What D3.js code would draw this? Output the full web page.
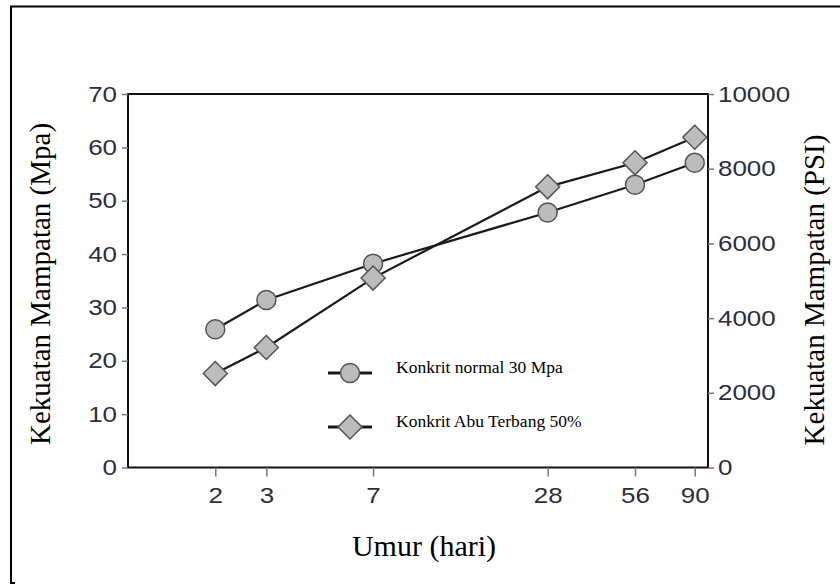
<!DOCTYPE html>
<html>
<head>
<meta charset="utf-8">
<script src="https://cdnjs.cloudflare.com/ajax/libs/d3/7.8.5/d3.min.js"></script>
<style>
  html, body { margin: 0; padding: 0; background: #fff; }
  svg { display: block; }
</style>
</head>
<body>
<div id="chart"></div>
<script>
// Age of specimens (days) and compressive strength (MPa)
const days = [2, 3, 7, 28, 56, 90];
const normalConcrete = [25.9, 31.4, 38.2, 47.8, 53.0, 57.1];
const flyAshConcrete = [17.6, 22.5, 35.5, 52.6, 57.1, 61.9];
const mpaTicks = [0, 10, 20, 30, 40, 50, 60, 70];
const psiTicks = [0, 2000, 4000, 6000, 8000, 10000];
const seriesNames = ["Konkrit normal 30 Mpa", "Konkrit Abu Terbang 50%"];

const W = 840, H = 585;
const svg = d3.select("#chart").append("svg")
  .attr("width", W).attr("height", H);

// outer frame (top and left edges)
svg.append("path")
  .attr("d", "M11,584 V6.5 H840")
  .attr("fill", "none").attr("stroke", "#000").attr("stroke-width", 2);
svg.append("path")
  .attr("d", "M11,583 H15")
  .attr("fill", "none").attr("stroke", "#000").attr("stroke-width", 2);

const plotL = 128, plotR = 708, plotT = 94, plotB = 467.5;

const x = d3.scaleLog().domain([1, 100]).range([plotL, plotR]);
const y = d3.scaleLinear().domain([0, 70]).range([plotB, plotT]);
const yPsi = d3.scaleLinear().domain([0, 10000]).range([plotB, plotT]);

const tickFont = "'Liberation Sans', Arial, sans-serif";
const tickColor = "#2d2d40";
const stretch = 1.18;

// plot box
svg.append("rect")
  .attr("x", plotL).attr("y", plotT)
  .attr("width", plotR - plotL).attr("height", plotB - plotT)
  .attr("fill", "none").attr("stroke", "#111").attr("stroke-width", 2);

// tick labels are drawn slightly wide
function styleAxis(g) {
  g.select(".domain").remove();
  g.selectAll(".tick line").attr("stroke", "#777").attr("stroke-width", 1.5);
  g.selectAll(".tick text")
    .attr("fill", tickColor)
    .style("font-family", tickFont)
    .style("font-size", "22px")
    .each(function () {
      const t = d3.select(this);
      const x0 = +t.attr("x") || 0;
      t.attr("x", x0 / stretch).attr("transform", `scale(${stretch},1)`);
    });
}

// left axis (MPa)
svg.append("g")
  .attr("transform", `translate(${plotL},0)`)
  .call(d3.axisLeft(y).tickValues(mpaTicks).tickSize(6).tickPadding(5))
  .call(styleAxis);

// right axis (PSI)
svg.append("g")
  .attr("transform", `translate(${plotR},0)`)
  .call(d3.axisRight(yPsi).tickValues(psiTicks).tickFormat(d3.format("d")).tickSize(6).tickPadding(4))
  .call(styleAxis);

// bottom axis (days, log scale)
svg.append("g")
  .attr("transform", `translate(0,${plotB})`)
  .call(d3.axisBottom(x).tickValues(days).tickFormat(d3.format("d")).tickSize(9).tickPadding(11))
  .call(styleAxis);

// axis titles
const serif = "'Liberation Serif', 'Times New Roman', serif";
svg.append("text")
  .attr("transform", `translate(50,284) rotate(-90)`)
  .attr("text-anchor", "middle")
  .style("font-family", serif).style("font-size", "29px")
  .text("Kekuatan Mampatan (Mpa)");
svg.append("text")
  .attr("transform", `translate(824,290) rotate(-90)`)
  .attr("text-anchor", "middle")
  .style("font-family", serif).style("font-size", "29px")
  .text("Kekuatan Mampatan (PSI)");
svg.append("text")
  .attr("x", 424).attr("y", 556)
  .attr("text-anchor", "middle")
  .style("font-family", serif).style("font-size", "30px")
  .text("Umur (hari)");

const markerFill = "#bcbcbc", markerStroke = "#555";
const line = d3.line().x(d => x(d[0])).y(d => y(d[1]));

function drawCircle(g, cx, cy) {
  g.append("circle").attr("cx", cx).attr("cy", cy).attr("r", 9.5)
    .attr("fill", markerFill).attr("stroke", markerStroke).attr("stroke-width", 1.5);
}
function drawDiamond(g, cx, cy) {
  const s = 12;
  g.append("path")
    .attr("d", `M${cx},${cy - s} L${cx + s},${cy} L${cx},${cy + s} L${cx - s},${cy} Z`)
    .attr("fill", markerFill).attr("stroke", markerStroke).attr("stroke-width", 1.5);
}

const series = [
  { values: normalConcrete, marker: drawCircle },
  { values: flyAshConcrete, marker: drawDiamond }
];

const lineG = svg.append("g");
series.forEach(s => {
  lineG.append("path")
    .datum(days.map((d, i) => [d, s.values[i]]))
    .attr("d", line)
    .attr("fill", "none").attr("stroke", "#1a1a1a").attr("stroke-width", 2.2);
});
const markG = svg.append("g");
series.forEach(s => {
  days.forEach((d, i) => s.marker(markG, x(d), y(s.values[i])));
});

// legend
const legendRows = [373, 427];
series.forEach((s, i) => {
  const ly = legendRows[i];
  const g = svg.append("g");
  g.append("line").attr("x1", 328).attr("x2", 372).attr("y1", ly).attr("y2", ly)
    .attr("stroke", "#1a1a1a").attr("stroke-width", 3);
  s.marker(g, 350, ly);
  g.append("text")
    .attr("x", 396).attr("y", ly)
    .style("font-family", serif).style("font-size", "17.5px")
    .text(seriesNames[i]);
});
</script>
</body>
</html>
